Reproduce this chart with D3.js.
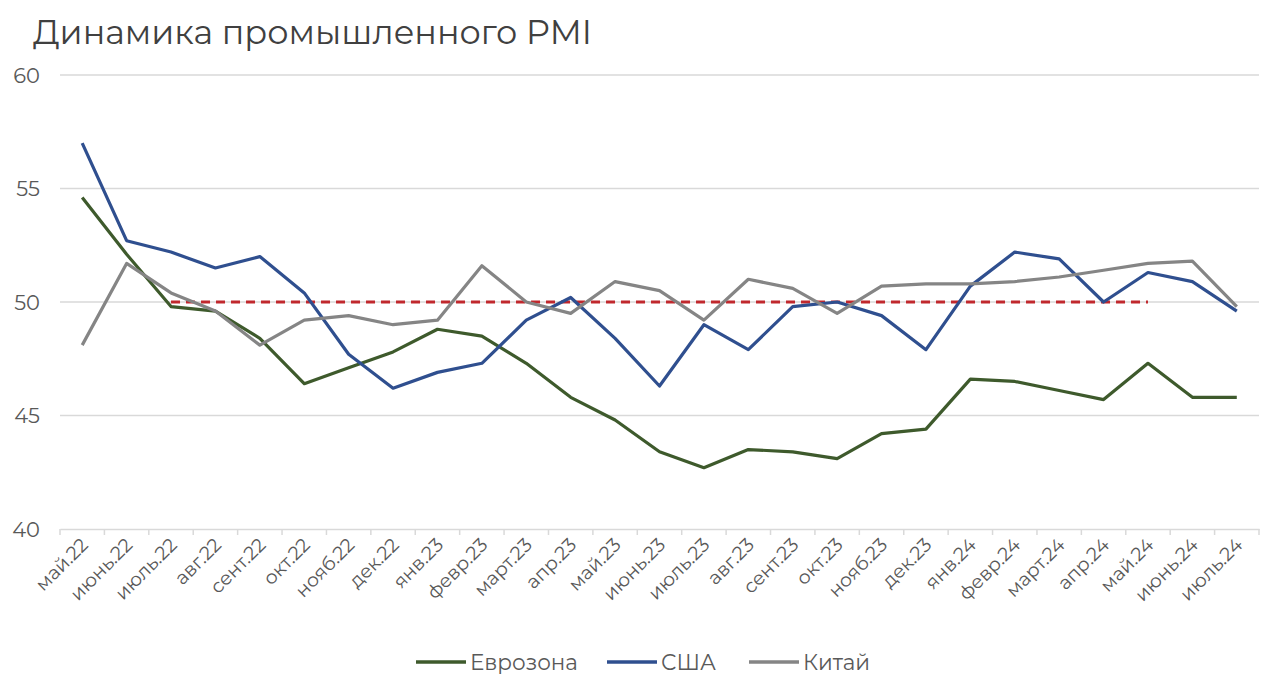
<!DOCTYPE html>
<html><head><meta charset="utf-8">
<script src="https://cdn.jsdelivr.net/npm/d3@7"></script>
<style>body{margin:0;background:#fff}svg{display:block}</style>
</head><body>
<svg id="c" width="1274" height="689"></svg>
<script>
const categories = ["май.22","июнь.22","июль.22","авг.22","сент.22","окт.22","нояб.22","дек.22","янв.23","февр.23","март.23","апр.23","май.23","июнь.23","июль.23","авг.23","сент.23","окт.23","нояб.23","дек.23","янв.24","февр.24","март.24","апр.24","май.24","июнь.24","июль.24"];
const euro = [54.6,52.1,49.8,49.6,48.4,46.4,47.1,47.8,48.8,48.5,47.3,45.8,44.8,43.4,42.7,43.5,43.4,43.1,44.2,44.4,46.6,46.5,46.1,45.7,47.3,45.8,45.8];
const usa = [57.0,52.7,52.2,51.5,52.0,50.4,47.7,46.2,46.9,47.3,49.2,50.2,48.4,46.3,49.0,47.9,49.8,50.0,49.4,47.9,50.7,52.2,51.9,50.0,51.3,50.9,49.6];
const china = [48.1,51.7,50.4,49.6,48.1,49.2,49.4,49.0,49.2,51.6,50.0,49.5,50.9,50.5,49.2,51.0,50.6,49.5,50.7,50.8,50.8,50.9,51.1,51.4,51.7,51.8,49.8];
const threshold = categories.map((c,i)=> (i>=2 && i<=24) ? 50 : null);
const yTicks = [40,45,50,55,60];
const seriesNames = ["Еврозона","США","Китай"];
const title = "Динамика промышленного PMI";

const svg = d3.select("#c");
const font = "'Montserrat','Noto Sans','DejaVu Sans',sans-serif";
const pL = 60, pR = 1259, pT = 75, pB = 529;
const x = d3.scaleBand().domain(categories).range([pL,pR]).paddingInner(0).paddingOuter(0);
const y = d3.scaleLinear().domain([40,60]).range([pB,pT]);
const cx = d => x(d) + x.bandwidth()/2;

svg.append("text").attr("x",33).attr("y",44).attr("font-family",font).attr("font-size",33.5)
  .attr("fill","#404040").text(title);

// grid
svg.append("g").selectAll("line").data(yTicks.filter(t=>t>40)).join("line")
  .attr("x1",pL).attr("x2",pR).attr("y1",d=>y(d)).attr("y2",d=>y(d))
  .attr("stroke","#d9d9d9").attr("stroke-width",1.5);
svg.append("g").selectAll("text").data(yTicks).join("text")
  .attr("x",40).attr("y",d=>y(d)+7.5).attr("text-anchor","end")
  .attr("font-family",font).attr("font-size",21).attr("fill","#595959").text(d=>d);

// x axis
const xAxis = d3.axisBottom(x).tickSize(0).tickFormat("");
const gx = svg.append("g").attr("transform",`translate(0,${pB})`).call(xAxis);
gx.select(".domain").attr("stroke","#d9d9d9").attr("stroke-width",1.5);
const bounds = categories.map(c=>x(c)).concat([pR]);
svg.append("g").selectAll("line").data(bounds).join("line")
  .attr("x1",d=>d).attr("x2",d=>d).attr("y1",pB).attr("y2",pB+6)
  .attr("stroke","#d9d9d9").attr("stroke-width",1.5);
svg.append("g").selectAll("text").data(categories).join("text")
  .attr("transform",d=>`translate(${cx(d)+7},${pB+17}) rotate(-45)`)
  .attr("text-anchor","end").attr("font-family",font).attr("font-size",19)
  .attr("fill","#595959").text(d=>d);

const line = d3.line().defined(d=>d.v!=null).x(d=>cx(d.c)).y(d=>y(d.v));
const toPts = arr => categories.map((c,i)=>({c, v:arr[i]}));

svg.append("path").datum(toPts(threshold)).attr("d",line).attr("fill","none")
  .attr("stroke","#c0282d").attr("stroke-width",3).attr("stroke-dasharray","9,6");

const colors = ["#3e5a2c","#2f4f8f","#858585"];
[euro,usa,china].forEach((arr,k)=>{
  svg.append("path").datum(toPts(arr)).attr("d",line).attr("fill","none")
    .attr("stroke",colors[k]).attr("stroke-width",3.2).attr("stroke-linejoin","round");
});

// legend
const legX = [416, 607, 749];
seriesNames.forEach((n,k)=>{
  svg.append("line").attr("x1",legX[k]).attr("x2",legX[k]+50).attr("y1",662).attr("y2",662)
    .attr("stroke",colors[k]).attr("stroke-width",3.5);
  svg.append("text").attr("x",legX[k]+54).attr("y",670).attr("font-family",font).attr("font-size",21.5)
    .attr("fill","#595959").text(n);
});
</script>
</body></html>
